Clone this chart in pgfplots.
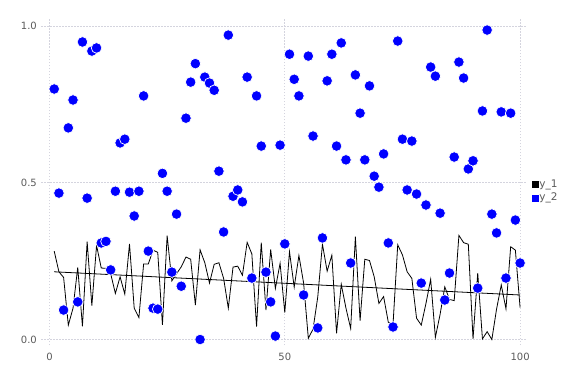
\documentclass[border=0pt]{standalone}
\usepackage{fontspec}
\setmainfont{DejaVu Sans}
\usepackage{pgfplots}
\pgfplotsset{compat=1.18}
\usepackage{pgfplotstable}
\definecolor{tickgray}{RGB}{90,90,90}
\definecolor{gridgray}{RGB}{212,212,222}
\definecolor{ptblue}{RGB}{0,0,255}
\pgfplotstableread{
x y
1 0.282
2 0.216
3 0.198
4 0.046
5 0.100
6 0.230
7 0.042
8 0.312
9 0.108
10 0.300
11 0.228
12 0.227
13 0.210
14 0.147
15 0.200
16 0.145
17 0.305
18 0.100
19 0.070
20 0.241
21 0.241
22 0.285
23 0.278
24 0.047
25 0.331
26 0.187
27 0.210
28 0.232
29 0.263
30 0.256
31 0.110
32 0.286
33 0.245
34 0.180
35 0.240
36 0.245
37 0.195
38 0.100
39 0.231
40 0.234
41 0.205
42 0.310
43 0.273
44 0.041
45 0.309
46 0.094
47 0.287
48 0.163
49 0.243
50 0.086
51 0.280
52 0.167
53 0.268
54 0.180
55 0.004
56 0.033
57 0.135
58 0.304
59 0.218
60 0.269
61 0.020
62 0.176
63 0.100
64 0.035
65 0.328
66 0.060
67 0.256
68 0.252
69 0.200
70 0.115
71 0.137
72 0.055
73 0.048
74 0.302
75 0.270
76 0.216
77 0.195
78 0.068
79 0.046
80 0.115
81 0.192
82 0.007
83 0.080
84 0.168
85 0.128
86 0.124
87 0.332
88 0.309
89 0.304
90 0.002
91 0.212
92 0.002
93 0.025
94 0.000
95 0.097
96 0.174
97 0.098
98 0.296
99 0.285
100 0.102
}\yone
\pgfplotstableread{
x y
1 0.799
2 0.467
3 0.094
4 0.675
5 0.764
6 0.120
7 0.949
8 0.451
9 0.920
10 0.930
11 0.308
12 0.313
13 0.222
14 0.473
15 0.627
16 0.639
17 0.470
18 0.394
19 0.473
20 0.777
21 0.282
22 0.100
23 0.097
24 0.530
25 0.473
26 0.215
27 0.400
28 0.170
29 0.706
30 0.821
31 0.880
32 0.000
33 0.837
34 0.818
35 0.795
36 0.537
37 0.343
38 0.971
39 0.457
40 0.477
41 0.439
42 0.837
43 0.196
44 0.777
45 0.617
46 0.215
47 0.120
48 0.011
49 0.620
50 0.305
51 0.910
52 0.830
53 0.777
54 0.142
55 0.904
56 0.649
57 0.037
58 0.324
59 0.825
60 0.910
61 0.617
62 0.946
63 0.573
64 0.244
65 0.844
66 0.722
67 0.573
68 0.809
69 0.521
70 0.486
71 0.592
72 0.308
73 0.040
74 0.952
75 0.639
76 0.477
77 0.633
78 0.464
79 0.180
80 0.429
81 0.869
82 0.840
83 0.403
84 0.126
85 0.212
86 0.582
87 0.885
88 0.834
89 0.544
90 0.570
91 0.164
92 0.729
93 0.987
94 0.400
95 0.340
96 0.726
97 0.196
98 0.722
99 0.381
100 0.244
}\ytwo
\begin{document}
\begin{tikzpicture}
\useasboundingbox (0,0) rectangle (576pt,384pt);
\begin{axis}[
  at={(41pt,39pt)}, anchor=south west,
  scale only axis, width=486pt, height=326pt,
  xmin=-1.806, xmax=101.47, ymin=-0.0175, ymax=1.0223,
  axis line style={draw=none},
  major tick length=0pt,
  xtick={0,50,100}, xticklabels={0,50,100},
  ytick={0,0.5,1}, yticklabels={0.0,0.5,1.0},
  grid=major,
  major grid style={gridgray, line width=0.6pt, dash pattern=on 1.5pt off 1.5pt},
  tick label style={font=\fontsize{10}{12}\selectfont, text=tickgray},
  xticklabel style={inner sep=0pt, anchor=north, yshift=-7.5pt},
  yticklabel style={inner sep=0pt, anchor=east, xshift=-4pt},
  legend style={draw=none, fill=none, at={(1.009,0.472)}, anchor=west,
    font=\fontsize{10.5}{12}\selectfont, text=tickgray, inner sep=0pt, row sep=2pt,
    nodes={inner sep=1pt}},
  legend cell align=left,
]
\addplot[black, line width=0.8pt, mark=none,
  legend image code/.code={\fill[black] (0pt,-3pt) rectangle (6pt,3pt);}]
  table[x=x, y=y] {\yone};
\addlegendentry{y\_1}
\addplot[black, line width=0.8pt, mark=none, forget plot]
  coordinates {(1,0.216) (100,0.142)};
\addplot[only marks, mark=*, mark size=5.3pt,
  mark options={fill=ptblue, draw=white, line width=0.7pt},
  legend image code/.code={\fill[ptblue] (0pt,-3pt) rectangle (6pt,3pt);}]
  table[x=x, y=y] {\ytwo};
\addlegendentry{y\_2}
\end{axis}
\end{tikzpicture}
\end{document}
